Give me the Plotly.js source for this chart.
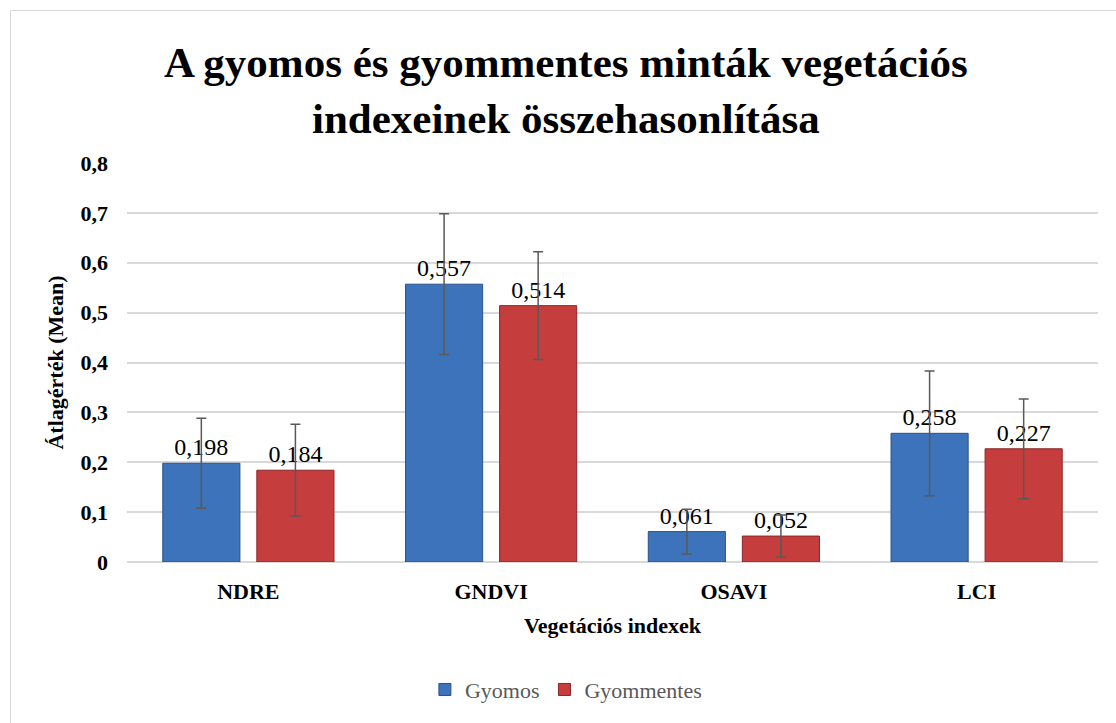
<!DOCTYPE html>
<html>
<head>
<meta charset="utf-8">
<script src="https://cdn.plot.ly/plotly-3.0.1.min.js"></script>
<style>
  body { margin: 0; overflow: hidden; background: #fff; }
  #frame { position: absolute; left: 10px; top: 10px; width: 1200px; height: 800px; border: 1px solid #d9d9d9; }
  #myPlot { position: absolute; left: 0; top: 0; width: 1116px; height: 723px; }
</style>
</head>
<body>
<div id="frame"></div>
<div id="myPlot"></div>
<script>
/**
 * Data
 */
const categories = ["NDRE", "GNDVI", "OSAVI", "LCI"];
const gyomos = [0.198, 0.557, 0.061, 0.258];
const gyommentes = [0.184, 0.514, 0.052, 0.227];
const gyomosErr = [0.090, 0.141, 0.045, 0.125];
const gyommentesErr = [0.092, 0.108, 0.042, 0.100];

const serif = "'Liberation Serif', 'Times New Roman', serif";

const myPlot = document.getElementById("myPlot");

function barTrace(name, values, errors, color, edge) {
  return {
    type: "bar",
    name: name,
    x: categories,
    y: values,
    marker: { color: color, line: { color: edge, width: 1 } },
    error_y: { type: "data", array: errors, visible: true, color: "#595959", thickness: 1.5, width: 5 },
    texttemplate: "%{y:.3f}",
    textposition: "outside",
    constraintext: "none",
    textfont: { family: serif, size: 24, color: "#000" },
    cliponaxis: false
  };
}

const data = [
  barTrace("Gyomos", gyomos, gyomosErr, "#3c73ba", "#2b5287"),
  barTrace("Gyommentes", gyommentes, gyommentesErr, "#c63d3d", "#8c2526")
];

/**
 * Layout
 */
const layout = {
  width: 1116,
  height: 723,
  autosize: false,
  separators: ", ",
  paper_bgcolor: "rgba(0,0,0,0)",
  plot_bgcolor: "rgba(0,0,0,0)",
  margin: { l: 127, r: 18, t: 163, b: 161 },
  font: { family: serif, color: "#000" },
  title: {
    text: "<b>A gyomos és gyommentes minták vegetációs<br>indexeinek összehasonlítása</b>",
    font: { family: serif, size: 43, color: "#000" },
    x: 0.507,
    xref: "container",
    xanchor: "center",
    y: 0.893,
    yref: "container",
    yanchor: "middle"
  },
  bargap: 0.225,
  bargroupgap: 0.18,
  xaxis: {
    tickfont: { family: serif, size: 22, color: "#000", weight: "bold" },
    title: { text: "<b>Vegetációs indexek</b>", font: { family: serif, size: 22, color: "#000" }, standoff: 14 },
    showline: false,
    ticks: "",
    ticklabelstandoff: 14,
    automargin: false
  },
  yaxis: {
    range: [0, 0.8],
    dtick: 0.1,
    tickfont: { family: serif, size: 22, color: "#000", weight: "bold" },
    title: { text: "<b>Átlagérték (Mean)</b>", font: { family: serif, size: 22, color: "#000" }, standoff: 10 },
    gridcolor: "#d9d9d9",
    gridwidth: 1.5,
    zeroline: true,
    zerolinecolor: "#d9d9d9",
    zerolinewidth: 1.5,
    ticks: "",
    ticklabelstandoff: 18,
    automargin: false
  },
  showlegend: true,
  legend: {
    orientation: "h",
    x: 0.452,
    xanchor: "center",
    y: -0.32,
    yanchor: "middle",
    font: { family: serif, size: 22, color: "#595959" },
    traceorder: "normal"
  }
};

Plotly.newPlot(myPlot, data, layout, { displayModeBar: false });
</script>
</body>
</html>
